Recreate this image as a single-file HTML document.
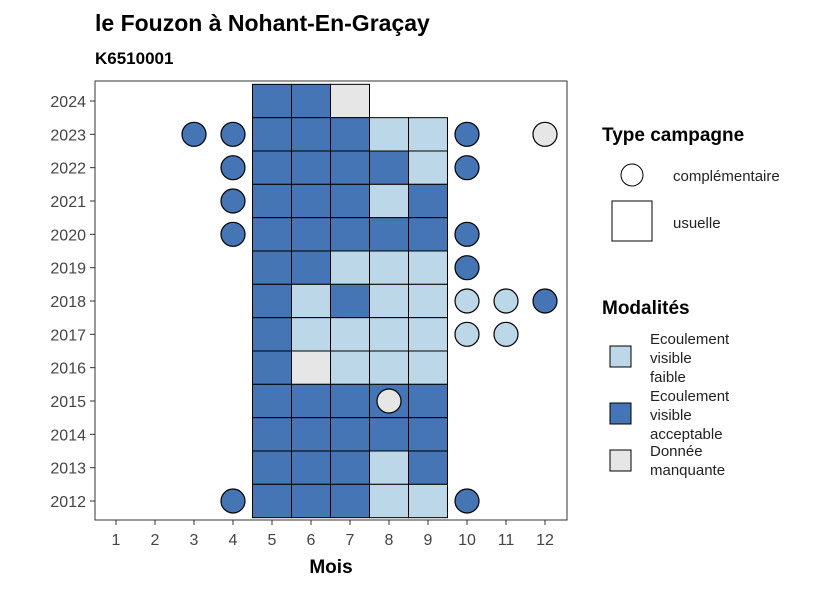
<!DOCTYPE html>
<html><head><meta charset="utf-8"><style>
body{margin:0;background:#fff;font-family:"Liberation Sans",sans-serif}
</style></head><body>
<svg id="c" width="826" height="590" xmlns="http://www.w3.org/2000/svg" font-family="Liberation Sans, sans-serif">
<text x="95" y="31" font-size="23" font-weight="bold">le Fouzon à Nohant-En-Graçay</text>
<text x="95" y="64" font-size="17" font-weight="bold">K6510001</text>
<rect x="95" y="81" width="472" height="439" fill="#fff" stroke="#333" stroke-width="1"/>
<g id="tiles"></g><g id="pts"></g><g id="axes"></g>
<text x="331" y="573" font-size="19" font-weight="bold" text-anchor="middle">Mois</text>
<g>
<text x="602" y="141" font-size="19" font-weight="bold">Type campagne</text>
<circle cx="632" cy="175" r="11" fill="#fff" stroke="#000"/>
<text x="673" y="181" font-size="15" fill="#222">complémentaire</text>
<rect x="612" y="201" width="40" height="40" fill="#fff" stroke="#000"/>
<text x="673" y="228" font-size="15" fill="#222">usuelle</text>
</g>
<g>
<text x="602" y="314" font-size="19" font-weight="bold">Modalités</text>
<rect x="610" y="346" width="21" height="21" fill="#bcd7e8" stroke="#000"/>
<text font-size="15" fill="#222"><tspan x="650" y="344">Ecoulement</tspan><tspan x="650" y="363">visible</tspan><tspan x="650" y="382">faible</tspan></text>
<rect x="610" y="403" width="21" height="21" fill="#4575b4" stroke="#000"/>
<text font-size="15" fill="#222"><tspan x="650" y="401">Ecoulement</tspan><tspan x="650" y="420">visible</tspan><tspan x="650" y="439">acceptable</tspan></text>
<rect x="610" y="450" width="21" height="21" fill="#e6e6e6" stroke="#000"/>
<text font-size="15" fill="#222"><tspan x="650" y="456">Donnée</tspan><tspan x="650" y="475">manquante</tspan></text>
</g>
</svg>
<script>
const months=[1,2,3,4,5,6,7,8,9,10,11,12];
const years=[2012,2013,2014,2015,2016,2017,2018,2019,2020,2021,2022,2023,2024];
// tiles: [year, month, modality] D=acceptable, L=faible, M=manquante
const tileYears=[2024,2024,2024,2023,2023,2023,2023,2023,2022,2022,2022,2022,2022,2021,2021,2021,2021,2021,2020,2020,2020,2020,2020,2019,2019,2019,2019,2019,2018,2018,2018,2018,2018,2017,2017,2017,2017,2017,2016,2016,2016,2016,2016,2015,2015,2015,2015,2015,2014,2014,2014,2014,2014,2013,2013,2013,2013,2013,2012,2012,2012,2012,2012];
const tileMonths=[5,6,7,5,6,7,8,9,5,6,7,8,9,5,6,7,8,9,5,6,7,8,9,5,6,7,8,9,5,6,7,8,9,5,6,7,8,9,5,6,7,8,9,5,6,7,8,9,5,6,7,8,9,5,6,7,8,9,5,6,7,8,9];
const tileMods=["D","D","M","D","D","D","L","L","D","D","D","D","L","D","D","D","L","D","D","D","D","D","D","D","D","L","L","L","D","L","D","L","L","D","L","L","L","L","D","M","L","L","L","D","D","D","D","D","D","D","D","D","D","D","D","D","L","D","D","D","D","L","L"];
const ptYears=[2023,2023,2023,2023,2022,2022,2021,2020,2020,2019,2018,2018,2018,2017,2017,2015,2012,2012];
const ptMonths=[3,4,10,12,4,10,4,4,10,10,10,11,12,10,11,8,4,10];
const ptMods=["D","D","D","M","D","D","D","D","D","D","L","L","D","L","L","M","D","D"];
const col={D:"#4575b4",L:"#bcd7e8",M:"#e6e6e6"};
const x=m=>116+(m-1)*39, y=yr=>501-(yr-2012)*(400/12);
const NS="http://www.w3.org/2000/svg";
function mk(t,a,p){const e=document.createElementNS(NS,t);for(const k in a)e.setAttribute(k,a[k]);p.appendChild(e);return e;}
const T=document.getElementById('tiles'),P=document.getElementById('pts'),A=document.getElementById('axes');
const h=400/12;
tileYears.forEach((yr,i)=>{const r=mk('rect',{x:x(tileMonths[i])-19.5,y:y(yr)-h/2,width:39,height:h,fill:col[tileMods[i]],stroke:'#000','stroke-width':1},T);

});
ptYears.forEach((yr,i)=>{const c=mk('circle',{cx:x(ptMonths[i]),cy:y(yr),r:12,fill:col[ptMods[i]],stroke:'#000','stroke-width':1.2},P);

});
months.forEach(m=>{mk('line',{x1:x(m),x2:x(m),y1:520,y2:525,stroke:'#333'},A);
const t=mk('text',{x:x(m),y:545,'font-size':16,fill:'#444','text-anchor':'middle'},A);t.textContent=m;

});
years.forEach(yr=>{mk('line',{x1:90,x2:95,y1:y(yr),y2:y(yr),stroke:'#333'},A);
const t=mk('text',{x:86,y:y(yr)+6,'font-size':16,fill:'#444','text-anchor':'end'},A);t.textContent=yr;

});
</script>
</body></html>
